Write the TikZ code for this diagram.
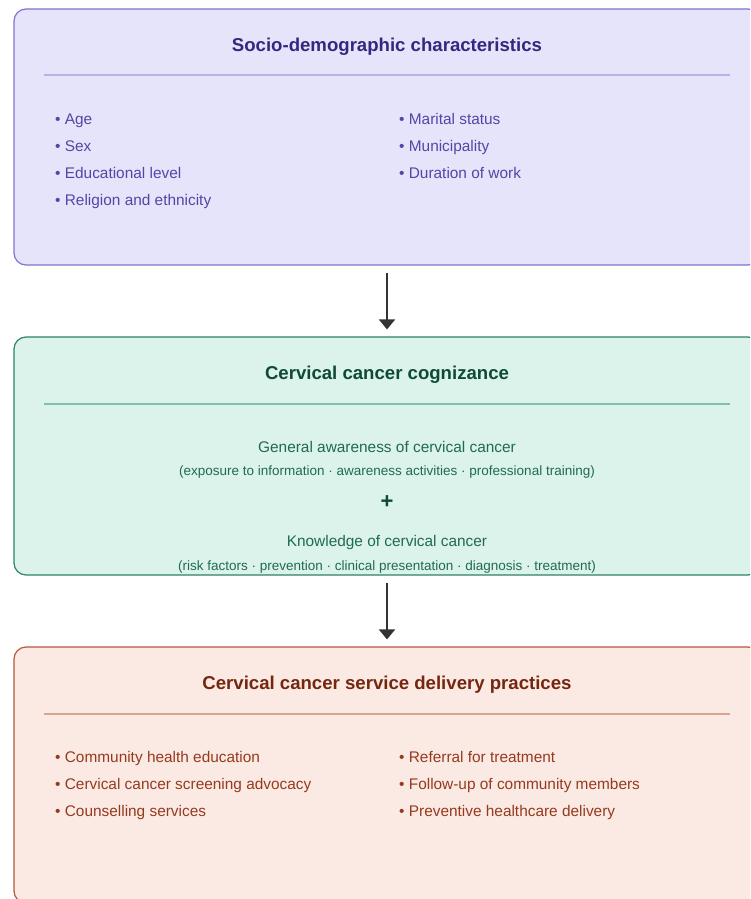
\documentclass[tikz,border=0pt]{standalone}
\usepackage{fontspec}
\setmainfont{Liberation Sans}
\usetikzlibrary{arrows.meta}

\definecolor{socioFill}{HTML}{E6E4FA}
\definecolor{socioLine}{HTML}{7E74CC}
\definecolor{socioRule}{HTML}{B9B2E6}
\definecolor{socioHead}{HTML}{33287F}
\definecolor{socioText}{HTML}{5346A6}
\definecolor{cogFill}{HTML}{DBF3EA}
\definecolor{cogLine}{HTML}{2F8066}
\definecolor{cogRule}{HTML}{7FC1A8}
\definecolor{cogHead}{HTML}{0E4A37}
\definecolor{cogText}{HTML}{1F6B52}
\definecolor{pracFill}{HTML}{FBEAE3}
\definecolor{pracLine}{HTML}{B5573C}
\definecolor{pracRule}{HTML}{D9A493}
\definecolor{pracHead}{HTML}{74260F}
\definecolor{pracText}{HTML}{963A1E}
\definecolor{flowArrow}{HTML}{333333}

\tikzset{
  card/.style={draw,line width=1.2pt,rounded corners=12pt,minimum width=746pt,inner sep=0pt},
  cardtitle/.style={inner sep=0pt,text height=13.3pt,text depth=0pt,font=\fontsize{18.6}{22}\selectfont\bfseries},
  item/.style={anchor=west,inner sep=0pt,text height=11pt,text depth=0pt,font=\fontsize{15.4}{18}\selectfont},
  line1/.style={inner sep=0pt,text height=11pt,text depth=0pt,font=\fontsize{15.4}{18}\selectfont},
  line2/.style={inner sep=0pt,text height=9.7pt,text depth=0pt,font=\fontsize{13.5}{16}\selectfont},
  flow/.style={draw=flowArrow,line width=2pt,-{Triangle[length=10pt,width=16pt]},shorten <=7pt,shorten >=7pt}
}

\begin{document}
\begin{tikzpicture}[x=1pt,y=-1pt]
   \useasboundingbox (0,0) rectangle (750,899);
   \clip (0,0) rectangle (750,899);
   % socio-demographic box
   \node[card,fill=socioFill,draw=socioLine,minimum height=256pt] (socio) at (387,137) {};
   \node[cardtitle,text=socioHead] (sociotitle) at (387,45) {Socio-demographic characteristics};
   \draw[socioRule,line width=1.2pt] (44,75) -- (730,75);
   \foreach \t [count=\i] in {Age,Sex,Educational level,Religion and ethnicity}
     \node[item,text=socioText] (sociol\i) at (55,{92+27*\i}) {• \t};
   \foreach \t [count=\i] in {Marital status,Municipality,Duration of work}
     \node[item,text=socioText] (socior\i) at (399,{92+27*\i}) {• \t};
   % cognizance box
   \node[card,fill=cogFill,draw=cogLine,minimum height=238pt] (cog) at (387,456) {};
   \node[cardtitle,text=cogHead] (cogtitle) at (387,373) {Cervical cancer cognizance};
   \draw[cogRule,line width=1.2pt] (44,404) -- (730,404);
   \node[line1,text=cogText] (aware) at (387,447) {General awareness of cervical cancer};
   \node[line2,text=cogText] (awaresub) at (387,471) {(exposure to information · awareness activities · professional training)};
   \node[text=cogHead,font=\fontsize{22}{22}\selectfont\bfseries,inner sep=0pt] (plus) at (387,502) {+};
   \node[line1,text=cogText] (know) at (387,541) {Knowledge of cervical cancer};
   \node[line2,text=cogText] (knowsub) at (387,566) {(risk factors · prevention · clinical presentation · diagnosis · treatment)};
   % practices box
   \node[card,fill=pracFill,draw=pracLine,minimum height=256pt] (prac) at (387,775) {};
   \node[cardtitle,text=pracHead] (practitle) at (387,683) {Cervical cancer service delivery practices};
   \draw[pracRule,line width=1.2pt] (44,714) -- (730,714);
   \foreach \t [count=\i] in {Community health education,Cervical cancer screening advocacy,Counselling services}
     \node[item,text=pracText] (pracl\i) at (55,{730+27*\i}) {• \t};
   \foreach \t [count=\i] in {Referral for treatment,Follow-up of community members,Preventive healthcare delivery}
     \node[item,text=pracText] (pracr\i) at (399,{730+27*\i}) {• \t};
   % arrows
   \draw[flow] (socio.south) -- (cog.north);
   \draw[flow] (cog.south) -- (prac.north);
\end{tikzpicture}
\end{document}
